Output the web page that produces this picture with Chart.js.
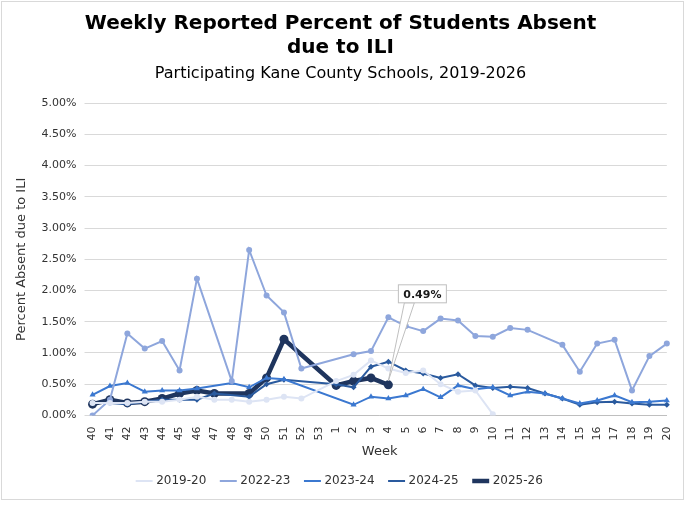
<!DOCTYPE html>
<html>
<head>
<meta charset="utf-8">
<script src="https://cdn.jsdelivr.net/npm/chart.js@4"></script>
<style>
  body { margin: 0; background: #fff; }
  #wrap { position: absolute; left: 1px; top: 1px; width: 683px; height: 499px; border: 1px solid #d9d9d9; box-sizing: border-box; }
</style>
</head>
<body>
<div id="wrap"><canvas id="ili"></canvas></div>
<script>
  // =============== data ==================//
  const weeks = ["40","41","42","43","44","45","46","47","48","49","50","51","52","53",
    "1","2","3","4","5","6","7","8","9","10","11","12","13","14","15","16","17","18","19","20"];
  const s1920 = [0.20,0.20,0.20,0.22,0.22,0.25,0.30,0.25,0.25,0.22,0.25,0.30,0.27,null,
    0.55,0.65,0.88,0.75,0.68,0.72,0.50,0.38,0.40,0.02,null,null,null,null,null,null,null,null,null,null];
  const s2223 = [0.00,0.25,1.31,1.07,1.19,0.72,2.19,null,0.55,2.65,1.92,1.65,0.75,null,
    null,0.98,1.03,1.57,1.43,1.35,1.55,1.52,1.27,1.26,1.40,1.37,null,1.13,0.70,1.15,1.21,0.40,0.95,1.15];
  const s2324 = [0.33,0.47,0.52,0.38,0.40,0.40,0.43,null,0.52,0.45,0.60,0.58,null,null,
    null,0.17,0.30,0.27,0.32,0.42,0.29,0.48,0.42,0.45,0.32,0.38,0.35,0.27,0.19,0.24,0.32,0.21,0.22,0.24];
  const s2425 = [0.20,0.20,0.18,0.22,0.25,0.25,0.25,0.35,null,0.30,0.50,0.57,null,null,
    0.50,0.45,0.78,0.86,0.72,0.67,0.60,0.66,0.48,0.44,0.46,0.44,0.35,0.27,0.17,0.21,0.22,0.19,0.17,0.17];
  const s2526 = [0.18,0.25,0.20,0.22,0.27,0.35,0.40,0.35,null,0.35,0.60,1.22,null,null,
    0.48,0.55,0.60,0.49,null,null,null,null,null,null,null,null,null,null,null,null,null,null,null,null];
  const yTicks = [0, 0.5, 1, 1.5, 2, 2.5, 3, 3.5, 4, 4.5, 5];

  // callout for the last 2025-26 value
  const callout = {
    id: "callout",
    afterDatasetsDraw(chart) {
      const meta = chart.getDatasetMeta(4);
      const pt = meta.data[17];
      const ctx = chart.ctx;
      const bx = pt.x + 10, by = pt.y - 100, bw = 48, bh = 18;
      ctx.save();
      ctx.strokeStyle = "#bfbfbf";
      ctx.fillStyle = "#fff";
      ctx.beginPath();
      ctx.moveTo(pt.x, pt.y - 4);
      ctx.lineTo(bx + 6, by + bh);
      ctx.lineTo(bx + 16, by + bh);
      ctx.closePath();
      ctx.fill();
      ctx.stroke();
      ctx.fillRect(bx, by, bw, bh);
      ctx.strokeRect(bx, by, bw, bh);
      ctx.fillStyle = "#1a1a1a";
      ctx.font = "bold 11px 'DejaVu Sans'";
      ctx.textAlign = "center";
      ctx.textBaseline = "middle";
      ctx.fillText("0.49%", bx + bw / 2, by + bh / 2 + 1);
      ctx.restore();
    },
  };

  function series(label, data, color, width, style, radius) {
    return {
      label: label,
      data: data,
      borderColor: color,
      backgroundColor: color,
      borderWidth: width,
      pointStyle: style,
      pointRadius: radius,
      pointBorderWidth: 0,
      spanGaps: true,
      tension: 0,
    };
  }

  const ili = document.getElementById("ili");
  new Chart(ili, {
    type: "line",
    plugins: [callout],
    data: {
      labels: weeks,
      datasets: [
        series("2019-20", s1920, "#dde4f4", 2, "circle", 3),
        series("2022-23", s2223, "#8ea6dc", 2, "circle", 3),
        series("2023-24", s2324, "#3b78d0", 2, "triangle", 3.5),
        series("2024-25", s2425, "#2a5a9e", 2, "rectRot", 3),
        series("2025-26", s2526, "#1f355e", 4.5, "circle", 4.5),
      ],
    },
    options: {
      animation: false,
      maintainAspectRatio: false,
      layout: { padding: { left: 8, right: 12, top: 4, bottom: 2 } },
      scales: {
        x: {
          grid: { display: false },
          border: { color: "#bfbfbf" },
          ticks: { color: "#333", maxRotation: 90, minRotation: 90, font: { size: 11, family: "DejaVu Sans" } },
          title: { display: true, text: "Week", color: "#333", font: { size: 13, family: "DejaVu Sans" }, padding: { top: 0, bottom: 0 } },
        },
        y: {
          min: 0,
          max: 5,
          afterBuildTicks: (axis) => { axis.ticks = yTicks.map((v) => ({ value: v })); },
          grid: { color: "#d9d9d9" },
          border: { display: false },
          ticks: { color: "#333", padding: 8, font: { size: 11, family: "DejaVu Sans" },
            callback: (v) => v.toFixed(2) + "%" },
          title: { display: true, text: "Percent Absent due to ILI", color: "#333", font: { size: 13, family: "DejaVu Sans" } },
        },
      },
      plugins: {
        title: {
          display: true,
          text: ["Weekly Reported Percent of Students Absent", "due to ILI"],
          color: "#000",
          font: { size: 20, weight: "bold", family: "DejaVu Sans" },
          lineHeight: 1.2,
          padding: { top: 6, bottom: 0 },
        },
        subtitle: {
          display: true,
          text: "Participating Kane County Schools, 2019-2026",
          color: "#000",
          font: { size: 16, family: "DejaVu Sans" },
          padding: { top: 4, bottom: 20 },
        },
        legend: {
          position: "bottom",
          labels: {
            color: "#333",
            usePointStyle: true,
            boxWidth: 30,
            padding: 16,
            font: { size: 12, family: "DejaVu Sans" },
            generateLabels: (chart) => chart.data.datasets.map((ds, i) => ({
              text: ds.label,
              strokeStyle: ds.borderColor,
              fillStyle: ds.borderColor,
              lineWidth: ds.borderWidth,
              pointStyle: "line",
              datasetIndex: i,
              fontColor: "#333",
            })),
          },
        },
        tooltip: { enabled: false },
      },
    },
  });
</script>
</body>
</html>
